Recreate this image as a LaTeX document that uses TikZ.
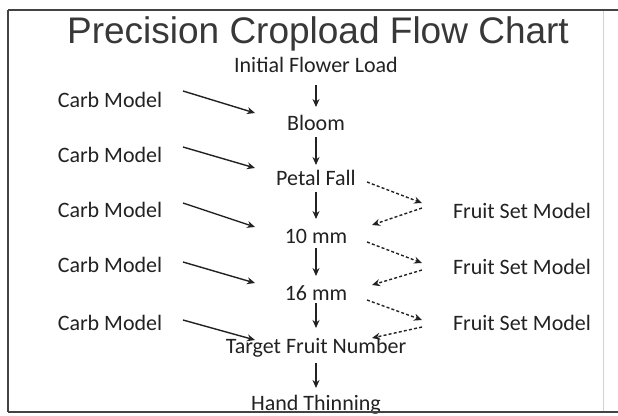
\documentclass[tikz,border=0pt]{standalone}
\usepackage{fontspec}
\setmainfont{Carlito}
\newfontfamily\titlefont{Liberation Sans}
\usetikzlibrary{arrows.meta}
\definecolor{ink}{HTML}{222222}
\tikzset{
  lbl/.style={text=ink, font=\fontsize{22}{24}\selectfont, inner sep=0pt},
  arr/.style={draw=ink, line width=1.4pt, -{Stealth[length=8pt,width=7pt]}},
  darr/.style={arr, dash pattern=on 3pt off 2.2pt},
}
\begin{document}
\begin{tikzpicture}[x=1pt,y=-1pt]
\useasboundingbox (0,0) rectangle (618,415);
\fill[white] (0,0) rectangle (618,415);
% title
\node[text=ink!90, font=\titlefont\fontsize{37}{40}\selectfont, inner sep=0pt] (title) at (318,34) {Precision Cropload Flow Chart};
% central column
\node[lbl] (ifl) at (316,65) {Initial Flower Load};
\node[lbl] (bloom) at (316,123) {Bloom};
\node[lbl] (pf) at (316,178) {Petal Fall};
\node[lbl] (m10) at (316,236) {10 mm};
\node[lbl] (m16) at (316,293) {16 mm};
\node[lbl] (tfn) at (316,348) {Target Fruit Number};
\node[lbl] (ht) at (316,405) {Hand Thinning};
% carb models
\node[lbl] (c1) at (110,100) {Carb Model};
\node[lbl] (c2) at (110,155) {Carb Model};
\node[lbl] (c3) at (110,210) {Carb Model};
\node[lbl] (c4) at (110,265) {Carb Model};
\node[lbl] (c5) at (110,323) {Carb Model};
% fruit set models
\node[lbl] (f1) at (522,211) {Fruit Set Model};
\node[lbl] (f2) at (522,267) {Fruit Set Model};
\node[lbl] (f3) at (522,323) {Fruit Set Model};
% vertical arrows
\draw[arr] ([yshift=-20pt]ifl.center) -- ([yshift=16pt]bloom.center);
\draw[arr] ([yshift=-14pt]bloom.center) -- ([yshift=13pt]pf.center);
\draw[arr] ([yshift=-14pt]pf.center) -- ([yshift=17pt]m10.center);
\draw[arr] ([yshift=-12pt]m10.center) -- ([yshift=17pt]m16.center);
\draw[arr] ([yshift=-10pt]m16.center) -- ([yshift=20pt]tfn.center);
\draw[arr] ([yshift=-15pt]tfn.center) -- ([yshift=17pt]ht.center);
% carb arrows
\draw[arr] ([shift={(73pt,9pt)}]c1.center) -- ([shift={(-61pt,10pt)}]bloom.center);
\draw[arr] ([shift={(73pt,8pt)}]c2.center) -- ([shift={(-61pt,10pt)}]pf.center);
\draw[arr] ([shift={(73pt,7pt)}]c3.center) -- ([shift={(-61pt,9pt)}]m10.center);
\draw[arr] ([shift={(73pt,3pt)}]c4.center) -- ([shift={(-61pt,10pt)}]m16.center);
\draw[arr] ([shift={(73pt,3pt)}]c5.center) -- ([shift={(-61pt,8pt)}]tfn.center);
% dashed fruit set arrows
\draw[darr] ([shift={(51pt,-4pt)}]pf.center) -- ([shift={(-100pt,8pt)}]f1.center);
\draw[darr] ([shift={(-100pt,3pt)}]f1.center) -- ([shift={(56pt,11pt)}]m10.center);
\draw[darr] ([shift={(51pt,-6pt)}]m10.center) -- ([shift={(-100pt,4pt)}]f2.center);
\draw[darr] ([shift={(-100pt,-3pt)}]f2.center) -- ([shift={(56pt,8pt)}]m16.center);
\draw[darr] ([shift={(51pt,-7pt)}]m16.center) -- ([shift={(-100pt,3pt)}]f3.center);
\draw[darr] ([shift={(-100pt,-4pt)}]f3.center) -- ([shift={(56pt,10pt)}]tfn.center);
% frame
\draw[gray!35, line width=1pt] (603,10) -- (603,412);
\draw[ink!85, line width=1.6pt] (8,10) -- (618,10);
\draw[ink!85, line width=1.6pt] (8,412) -- (618,412);
\draw[ink!85, line width=1.6pt] (8,10) -- (8,412);
\end{tikzpicture}
\end{document}
